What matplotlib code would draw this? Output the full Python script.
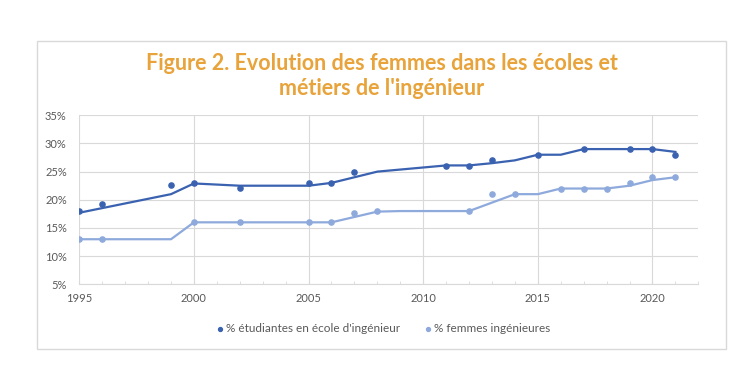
import matplotlib.pyplot as plt
import matplotlib.patches as patches
from matplotlib.ticker import FuncFormatter, MultipleLocator

# --- data ---
etud_years = [1995, 1996, 1999, 2000, 2002, 2005, 2006, 2007, 2011, 2012, 2013, 2015, 2017, 2019, 2020, 2021]
etud_pct = [18, 19.2, 22.7, 23, 22.1, 23, 23, 25, 26, 26, 27, 28, 29, 29, 29, 28]
etud_line_years = [1995, 1999, 2000, 2002, 2005, 2006, 2008, 2011, 2012, 2013, 2014, 2015, 2016, 2017, 2020, 2021]
etud_line_pct = [17.7, 21, 22.9, 22.5, 22.5, 23, 25, 26.1, 26.1, 26.5, 27, 28, 28, 29, 29, 28.5]

fem_years = [1995, 1996, 2000, 2002, 2005, 2006, 2007, 2008, 2012, 2013, 2014, 2016, 2017, 2018, 2019, 2020, 2021]
fem_pct = [13, 13, 16, 16, 16, 16, 17.7, 18, 18, 21, 21, 22, 22, 22, 23, 24, 24]
fem_line_years = [1995, 1999, 2000, 2006, 2008, 2009, 2012, 2014, 2015, 2016, 2018, 2019, 2020, 2021]
fem_line_pct = [13, 13, 16, 16, 17.9, 18, 18, 21, 21, 22, 22, 22.5, 23.5, 24]

labels = ["% étudiantes en école d'ingénieur", "% femmes ingénieures"]
title = "Figure 2. Evolution des femmes dans les écoles et\nmétiers de l'ingénieur"

DARK = '#3A62B0'
LIGHT = '#8EA9DB'
GRID = '#D9D9D9'
TXT = '#595959'

plt.rcParams['font.family'] = ['Lato', 'DejaVu Sans']

fig = plt.figure(figsize=(7.56, 3.77), dpi=100)
fig.patch.set_facecolor('white')

# chart border
fig.add_artist(patches.Rectangle((0.0485, 0.075), 0.9118, 0.817, transform=fig.transFigure,
                                 facecolor='none', edgecolor=GRID, linewidth=1))

ax = fig.add_axes([0.1049, 0.2459, 0.8188, 0.4483])

ax.plot(etud_line_years, etud_line_pct, color=DARK, linewidth=1.6, zorder=3)
ax.plot(fem_line_years, fem_line_pct, color=LIGHT, linewidth=1.6, zorder=3)
ax.scatter(etud_years, etud_pct, s=14, color=DARK, zorder=4, label=labels[0])
ax.scatter(fem_years, fem_pct, s=14, color=LIGHT, zorder=4, label=labels[1])

ax.set_xlim(1995, 2022)
ax.set_ylim(5, 35)
ax.yaxis.set_major_locator(MultipleLocator(5))
ax.yaxis.set_major_formatter(FuncFormatter(lambda v, p: f"{v:.0f}%"))
ax.xaxis.set_major_locator(MultipleLocator(5))
ax.xaxis.set_minor_locator(MultipleLocator(1))

ax.grid(True, which='major', color=GRID, linewidth=0.8, zorder=0)
ax.set_axisbelow(True)
for s in ['top', 'right', 'left']:
    ax.spines[s].set_visible(False)
ax.spines['bottom'].set_color(GRID)
ax.spines['bottom'].set_linewidth(0.8)

ax.tick_params(axis='y', length=0, labelsize=8, labelcolor=TXT, pad=9)
ax.tick_params(axis='x', which='both', direction='in', length=2.5, color=GRID,
               labelsize=8, labelcolor=TXT, pad=6)

fig.text(0.505, 0.798, title, ha='center', va='center', fontsize=15.5, fontweight='bold',
         color='#E8A33A', linespacing=1.2)

fig.legend(loc='center', bbox_to_anchor=(0.507, 0.128), ncol=2, frameon=False,
           fontsize=8.5, labelcolor=TXT, handlelength=0.6, handletextpad=0.25,
           columnspacing=2.0, markerscale=0.75)

fig.savefig('out.png', dpi=100)
